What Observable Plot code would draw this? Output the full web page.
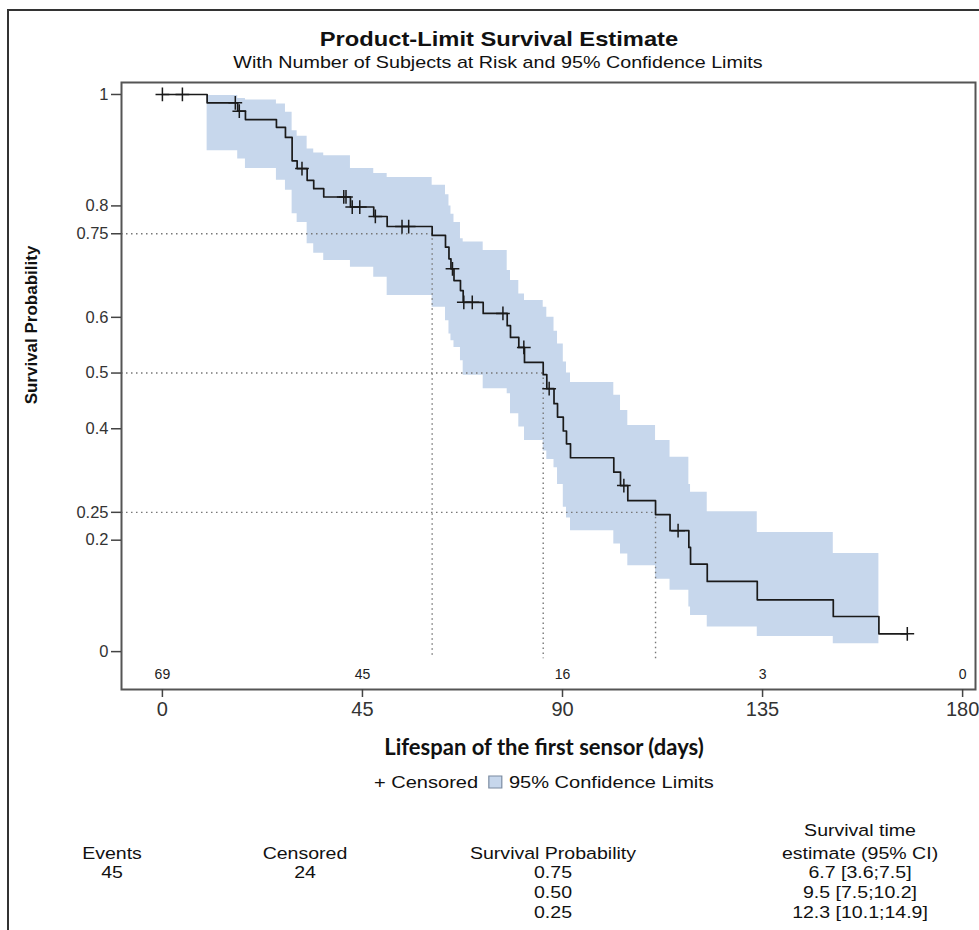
<!DOCTYPE html>
<html><head><meta charset="utf-8">
<script src="https://cdn.jsdelivr.net/npm/d3@7"></script>
<script src="https://cdn.jsdelivr.net/npm/@observablehq/plot@0.6"></script>
<style>
body{margin:0;background:#fff;}
#chart{position:relative;width:979px;height:930px;overflow:hidden;background:#fff;}
</style></head><body><div id="chart"></div>
<script>
// ---- data ----
const stepTimes = [10.06, 16.94, 18.68, 25.65, 27.68, 29.18, 30.31, 32.56, 34.04, 36.29, 42.3, 47.54, 50.56, 60.68, 63.68, 64.46, 64.91, 65.59, 67.05, 67.66, 72.16, 77.56, 78.3, 80.17, 81.45, 85.66, 86.47, 88.09, 88.88, 90.18, 90.9, 91.8, 101.54, 103.05, 104.69, 110.93, 114.19, 118.42, 118.8, 122.56, 133.81, 150.91, 161.17];
const survival = [0.985, 0.970, 0.955, 0.941, 0.923, 0.881, 0.867, 0.846, 0.831, 0.816, 0.798, 0.781, 0.763, 0.747, 0.726, 0.705, 0.687, 0.666, 0.648, 0.627, 0.607, 0.585, 0.564, 0.546, 0.519, 0.497, 0.472, 0.445, 0.421, 0.396, 0.373, 0.348, 0.322, 0.298, 0.271, 0.246, 0.217, 0.187, 0.157, 0.126, 0.093, 0.063, 0.032];
const lowerCL = [0.899, 0.884, 0.867, 0.846, 0.828, 0.786, 0.770, 0.732, 0.715, 0.702, 0.690, 0.672, 0.639, 0.618, 0.594, 0.570, 0.558, 0.546, 0.522, 0.496, 0.472, 0.463, 0.427, 0.403, 0.379, 0.360, 0.345, 0.330, 0.300, 0.259, 0.240, 0.217, 0.193, 0.175, 0.154, 0.130, 0.110, 0.080, 0.065, 0.044, 0.027, 0.014, 0.014];
const upperCL = [0.998, 0.993, 0.990, 0.983, 0.968, 0.935, 0.925, 0.902, 0.895, 0.890, 0.867, 0.858, 0.851, 0.837, 0.820, 0.800, 0.785, 0.770, 0.741, 0.735, 0.720, 0.684, 0.666, 0.642, 0.630, 0.618, 0.600, 0.575, 0.552, 0.520, 0.500, 0.483, 0.460, 0.433, 0.406, 0.379, 0.349, 0.300, 0.286, 0.251, 0.214, 0.176, 0.176];
const startSurvival = 1;
const lastFollowUp = 167.56;

const censorTimes = [0, 4.5, 16.4, 17.3, 31.4, 40.8, 41.3, 42.7, 44.4, 47.9, 53.9, 55.4, 65.25, 67.8, 69.7, 76.6, 81.3, 87.0, 103.8, 116.0, 167.56];
const censorSurv  = [1, 1, 0.985, 0.970, 0.867, 0.816, 0.816, 0.798, 0.798, 0.781, 0.763, 0.763, 0.687, 0.627, 0.627, 0.607, 0.546, 0.472, 0.298, 0.217, 0.032];

const quantileProbs = [0.75, 0.5, 0.25];
const quantileTimes = [60.68, 85.66, 110.93];
const refLineBottom = -0.013;

const atRiskTimes = [0, 45, 90, 135, 180];
const atRiskCounts = [69, 45, 16, 3, 0];

const xTicks = [0, 45, 90, 135, 180];
const yTicks = [0, 0.2, 0.25, 0.4, 0.5, 0.6, 0.75, 0.8, 1];
const xDomain = [-9.2, 182.9];
const yDomain = [-0.068, 1.0215];

const titleText = "Product-Limit Survival Estimate";
const subtitleText = "With Number of Subjects at Risk and 95% Confidence Limits";
const xLabel = "Lifespan of the first sensor (days)";
const yLabel = "Survival Probability";
const legendCensored = "+ Censored";
const legendBand = "95% Confidence Limits";

const tableHeaders = ["Events", "Censored", "Survival Probability", "estimate (95% CI)"];
const tableHeaderTop = "Survival time";
const tableEvents = "45";
const tableCensored = "24";
const tableProbs = ["0.75", "0.50", "0.25"];
const tableEstimates = ["6.7 [3.6;7.5]", "9.5 [7.5;10.2]", "12.3 [10.1;14.9]"];

// ---- build tables for the library ----
const survLine = [{t: 0, s: startSurvival}]
  .concat(stepTimes.map((t, i) => ({t, s: survival[i]})))
  .concat([{t: lastFollowUp, s: survival[survival.length - 1]}]);
const band = stepTimes.map((t, i) => ({t, lo: lowerCL[i], hi: upperCL[i]}));
const censored = censorTimes.map((t, i) => ({t, s: censorSurv[i]}));
const quants = quantileProbs.map((p, i) => ({p, t: quantileTimes[i]}));
const atRisk = atRiskTimes.map((t, i) => ({t, n: atRiskCounts[i]}));

const W = 979, H = 930;
const bandFill = "#c7d7ec";
const fontMain = "'Liberation Sans', Arial, sans-serif";

const svg = Plot.plot({
  width: W, height: H,
  marginLeft: 121, marginRight: 4, marginTop: 82, marginBottom: 241,
  style: {fontFamily: fontMain, background: "#fff", overflow: "visible"},
  x: {domain: xDomain},
  y: {domain: yDomain},
  marks: [
    Plot.areaY(band, {x: "t", y1: "lo", y2: "hi", curve: "step-after", fill: bandFill}),
    Plot.ruleY(quants, {y: "p", x1: xDomain[0], x2: "t", stroke: "#777", strokeWidth: 1.4, strokeDasharray: "1.5,3.5"}),
    Plot.ruleX(quants, {x: "t", y1: "p", y2: refLineBottom, stroke: "#777", strokeWidth: 1.4, strokeDasharray: "1.5,3.5"}),
    Plot.line(survLine, {x: "t", y: "s", curve: "step-after", stroke: "#1a1a1a", strokeWidth: 1.7}),
    Plot.dot(censored, {x: "t", y: "s", symbol: "plus", r: 4.5, stroke: "#1a1a1a", strokeWidth: 1.5}),
    Plot.text(atRisk, {x: "t", text: "n", frameAnchor: "bottom", dy: -11, fontSize: 14, fill: "#222"}),
    Plot.frame({stroke: "#555", strokeWidth: 2}),
    Plot.axisX({ticks: xTicks, tickSize: 8, tickPadding: 4, fontSize: 20, fill: "#333", stroke: "#444", strokeWidth: 1.5, label: null, tickFormat: d => String(d)}),
    Plot.axisY({ticks: yTicks, tickSize: 10, tickPadding: 3, fontSize: 16.5, fill: "#333", stroke: "#444", strokeWidth: 1.5, label: null, tickFormat: d => String(d)})
  ]
});
document.getElementById("chart").appendChild(svg);

// ---- annotations (text) ----
const g = d3.select(svg).append("g").attr("font-family", fontMain).attr("fill", "#111");
// outer border
g.append("rect").attr("x", 8).attr("y", 10).attr("width", 1000).attr("height", 1000)
  .attr("fill", "none").attr("stroke", "#333").attr("stroke-width", 2);

function txt(x, y, s, opts = {}) {
  const sx = opts.sx || 1;
  const rot = opts.rotate ? ` rotate(${opts.rotate})` : "";
  const t = g.append("text").attr("x", 0).attr("y", 0).text(s)
    .attr("text-anchor", opts.anchor || "middle")
    .attr("font-size", opts.size || 16)
    .attr("font-weight", opts.weight || "normal")
    .attr("transform", `translate(${x},${y})${rot} scale(${sx},1)`);
  if (opts.family) t.attr("font-family", opts.family);
  if (opts.fill) t.attr("fill", opts.fill);
  return t;
}
txt(499, 46, titleText, {size: 21, weight: "bold", sx: 1.13});
txt(498, 68, subtitleText, {size: 17, sx: 1.16});
txt(37, 325, yLabel, {size: 17, weight: "bold", rotate: -90});
txt(544, 755, xLabel, {size: 22, weight: "bold", family: "Lato, 'Open Sans', sans-serif"});

// legend
const lsx = 1.18;
const lg = g.append("g");
const l1 = lg.append("text").attr("text-anchor", "start").attr("x", 0).attr("y", 0).attr("font-size", 17).text(legendCensored);
const w1 = l1.node().getComputedTextLength();
lg.append("rect").attr("x", w1 + 9).attr("y", -12).attr("width", 11).attr("height", 12)
  .attr("fill", bandFill).attr("stroke", "#7a8aa0").attr("stroke-width", 1);
const l2 = lg.append("text").attr("text-anchor", "start").attr("x", w1 + 26).attr("y", 0).attr("font-size", 17).text(legendBand);
const total = w1 + 26 + l2.node().getComputedTextLength();
lg.attr("transform", `translate(${544 - total * lsx / 2},788) scale(${lsx},1)`);

// summary table
const cx = [112, 305, 553, 860];
const tsx = 1.15;
txt(cx[3], 836, tableHeaderTop, {size: 17, sx: tsx});
tableHeaders.forEach((h, i) => txt(cx[i], 859, h, {size: 17, sx: tsx}));
txt(cx[0], 878, tableEvents, {size: 17, sx: tsx});
txt(cx[1], 878, tableCensored, {size: 17, sx: tsx});
tableProbs.forEach((p, i) => {
  txt(cx[2], 878 + i * 20, p, {size: 17, sx: tsx});
  txt(cx[3], 878 + i * 20, tableEstimates[i], {size: 17, sx: tsx});
});
</script></body></html>
